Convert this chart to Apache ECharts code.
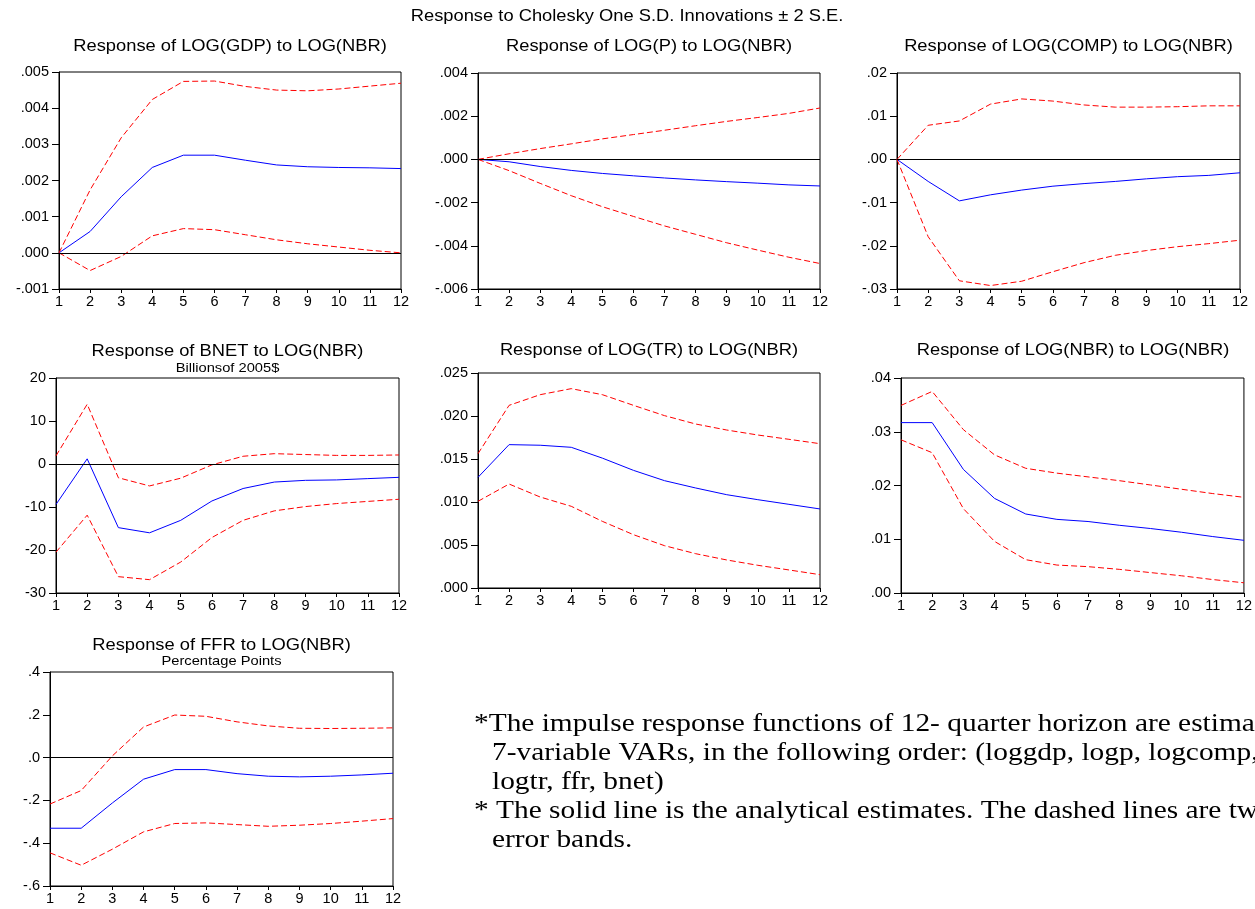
<!DOCTYPE html>
<html>
<head>
<meta charset="utf-8">
<script src="https://cdn.jsdelivr.net/npm/echarts@6/dist/echarts.min.js"></script>
<style>
html,body{margin:0;padding:0;background:#fff;overflow:hidden;}
#chart{width:1255px;height:909px;}
</style>
</head>
<body>
<div id="chart"></div>
<script>
const horizons = ['1','2','3','4','5','6','7','8','9','10','11','12'];

const gdpResp  = [0, 0.00059, 0.00155, 0.00236, 0.0027, 0.0027, 0.00256, 0.00243, 0.00238, 0.00236, 0.00235, 0.00233];
const gdpUpper = [0, 0.00174, 0.00318, 0.00424, 0.00474, 0.00475, 0.0046, 0.0045, 0.00448, 0.00453, 0.00461, 0.00469];
const gdpLower = [0, -0.00049, -0.0001, 0.00047, 0.00067, 0.00064, 0.0005, 0.00036, 0.00025, 0.00016, 0.00007, 0.0];

const pResp  = [0, -0.00011, -0.00033, -0.00051, -0.00065, -0.00076, -0.00086, -0.00095, -0.00103, -0.0011, -0.00118, -0.00123];
const pUpper = [0, 0.00026, 0.0005, 0.00072, 0.00095, 0.00115, 0.00135, 0.00156, 0.00176, 0.00194, 0.00213, 0.00238];
const pLower = [0, -0.00052, -0.00111, -0.00168, -0.00219, -0.00264, -0.00308, -0.00347, -0.00386, -0.0042, -0.00453, -0.00482];

const compResp  = [0, -0.0051, -0.0096, -0.0082, -0.0071, -0.0062, -0.0056, -0.0051, -0.0045, -0.004, -0.0037, -0.0031];
const compUpper = [0, 0.0079, 0.0089, 0.0128, 0.014, 0.0135, 0.0126, 0.0121, 0.0121, 0.0122, 0.0124, 0.0124];
const compLower = [0, -0.0179, -0.0281, -0.0292, -0.0282, -0.026, -0.0239, -0.0222, -0.0211, -0.0202, -0.0195, -0.0187];

const bnetResp  = [-9.4, 1.2, -14.8, -16.0, -13.1, -8.6, -5.7, -4.2, -3.8, -3.7, -3.4, -3.1];
const bnetUpper = [1.9, 13.9, -3.2, -5.1, -3.3, -0.2, 1.8, 2.4, 2.2, 2.0, 2.0, 2.1];
const bnetLower = [-20.5, -11.9, -26.2, -26.9, -22.8, -17.1, -13.1, -10.9, -9.9, -9.2, -8.7, -8.2];

const trResp  = [0.01287, 0.01667, 0.0166, 0.01636, 0.0151, 0.01368, 0.01248, 0.01163, 0.01085, 0.01027, 0.00973, 0.00919];
const trUpper = [0.01562, 0.02124, 0.02248, 0.02318, 0.02248, 0.02124, 0.02004, 0.01907, 0.01837, 0.01779, 0.01729, 0.01678];
const trLower = [0.01008, 0.01209, 0.01058, 0.0095, 0.00775, 0.0062, 0.00492, 0.00399, 0.00326, 0.00264, 0.0021, 0.00155];

const nbrResp  = [0.0317, 0.0317, 0.023, 0.0176, 0.0147, 0.0137, 0.0133, 0.0126, 0.012, 0.0113, 0.0105, 0.0098];
const nbrUpper = [0.0349, 0.0375, 0.0304, 0.0257, 0.0232, 0.0223, 0.0216, 0.0209, 0.0201, 0.0193, 0.0185, 0.0178];
const nbrLower = [0.0285, 0.0261, 0.0157, 0.0096, 0.0062, 0.0052, 0.0049, 0.0044, 0.0038, 0.0032, 0.0025, 0.0019];

const ffrResp  = [-0.33, -0.33, -0.212, -0.101, -0.056, -0.056, -0.075, -0.087, -0.09, -0.087, -0.081, -0.073];
const ffrUpper = [-0.217, -0.154, 0.008, 0.143, 0.199, 0.193, 0.167, 0.148, 0.137, 0.136, 0.137, 0.139];
const ffrLower = [-0.445, -0.503, -0.428, -0.347, -0.308, -0.305, -0.313, -0.321, -0.316, -0.308, -0.297, -0.285];

const panelTitles = [
  'Response of LOG(GDP) to LOG(NBR)',
  'Response of LOG(P) to LOG(NBR)',
  'Response of LOG(COMP) to LOG(NBR)',
  'Response of BNET to LOG(NBR)',
  'Response of LOG(TR) to LOG(NBR)',
  'Response of LOG(NBR) to LOG(NBR)',
  'Response of FFR to LOG(NBR)'
];
const panelSubtitles = ['', '', '', 'Billionsof 2005$', '', '', 'Percentage Points'];
const mainTitle = 'Response to Cholesky One S.D. Innovations \u00b1 2 S.E.';
const noteLines = [
  '*The impulse response functions of 12- quarter horizon are estimated',
  '7-variable VARs, in the following order: (loggdp, logp, logcomp,',
  'logtr, ffr, bnet)',
  '* The solid line is the analytical estimates. The dashed lines are two',
  'error bands.'
];

// y-axis scales: [min, max, interval, decimals]
const yScales = [
  [-0.001, 0.005, 0.001, 3],
  [-0.006, 0.004, 0.002, 3],
  [-0.03, 0.02, 0.01, 2],
  [-30, 20, 10, 0],
  [0, 0.025, 0.005, 3],
  [0, 0.04, 0.01, 2],
  [-0.6, 0.4, 0.2, 1]
];

const panelData = [
  [gdpResp, gdpUpper, gdpLower],
  [pResp, pUpper, pLower],
  [compResp, compUpper, compLower],
  [bnetResp, bnetUpper, bnetLower],
  [trResp, trUpper, trLower],
  [nbrResp, nbrUpper, nbrLower],
  [ffrResp, ffrUpper, ffrLower]
];

// layout: plot rectangles [left, top, right, bottom] and title y positions
const rects = [
  [59, 72, 401, 289],
  [478, 73, 820, 289],
  [897, 73, 1240, 289],
  [56, 378, 399, 593],
  [478, 373, 820, 588],
  [901, 378, 1245, 593],
  [50, 672, 393, 886]
];
const titleY = [46, 46, 46, 351, 350, 350, 645];
const subY = [0, 0, 0, 368, 0, 0, 661];

function fmt(dec) {
  return function (v) {
    if (Math.abs(v) < 1e-12) v = 0;
    let s = v.toFixed(dec);
    if (s.startsWith('0.')) s = s.slice(1);
    else if (s.startsWith('-0.')) s = '-' + s.slice(2);
    return s;
  };
}

const sansFont = '"Liberation Sans", Arial, sans-serif';
const grids = [], xAxes = [], yAxes = [], series = [], graphics = [];
rects.forEach(function (r, i) {
  grids.push({
    left: r[0], top: r[1], width: r[2] - r[0], height: r[3] - r[1],
    show: true, borderColor: '#000', borderWidth: 1, backgroundColor: 'transparent',
    containLabel: false
  });
  xAxes.push({
    type: 'category', gridIndex: i, data: horizons, boundaryGap: false,
    axisLine: { lineStyle: { color: '#000', width: 1 }, onZero: false },
    axisTick: { show: true, length: 4, lineStyle: { color: '#000' } },
    axisLabel: { color: '#000', fontFamily: sansFont, fontSize: 14.5, margin: 5, interval: 0 },
    splitLine: { show: false }
  });
  const ys = yScales[i];
  yAxes.push({
    type: 'value', gridIndex: i, min: ys[0], max: ys[1], interval: ys[2],
    axisLine: { show: true, lineStyle: { color: '#000', width: 1 } },
    axisTick: { show: true, length: 7, lineStyle: { color: '#000' } },
    axisLabel: { color: '#000', fontFamily: sansFont, fontSize: 14.5, margin: 10, formatter: fmt(ys[3]) },
    splitLine: { show: false }
  });
  const d = panelData[i];
  series.push({
    type: 'line', xAxisIndex: i, yAxisIndex: i, data: d[0], symbol: 'none',
    lineStyle: { color: '#0000ff', width: 1, type: 'solid' }, z: 3, silent: true,
    markLine: {
      silent: true, symbol: 'none', label: { show: false },
      lineStyle: { color: '#000', width: 1, type: 'solid' },
      data: [{ yAxis: 0 }], animation: false
    }
  });
  series.push({
    type: 'line', xAxisIndex: i, yAxisIndex: i, data: d[1], symbol: 'none',
    lineStyle: { color: '#ff0000', width: 1, type: [6, 3] }, z: 3, silent: true
  });
  series.push({
    type: 'line', xAxisIndex: i, yAxisIndex: i, data: d[2], symbol: 'none',
    lineStyle: { color: '#ff0000', width: 1, type: [6, 3] }, z: 3, silent: true
  });
  graphics.push({
    type: 'text', x: (r[0] + r[2]) / 2, y: titleY[i], scaleX: 1.11,
    style: { text: panelTitles[i], fill: '#000', font: '16.5px ' + sansFont, textAlign: 'center', textVerticalAlign: 'middle' }
  });
  if (panelSubtitles[i]) {
    graphics.push({
      type: 'text', x: (r[0] + r[2]) / 2, y: subY[i], scaleX: 1.13,
      style: { text: panelSubtitles[i], fill: '#000', font: '13px ' + sansFont, textAlign: 'center', textVerticalAlign: 'middle' }
    });
  }
});

graphics.push({
  type: 'text', x: 627, y: 16, scaleX: 1.11,
  style: { text: mainTitle, fill: '#000', font: '16.5px ' + sansFont, textAlign: 'center', textVerticalAlign: 'middle' }
});
const noteX = [474, 492, 492, 474, 492];
noteLines.forEach(function (t, k) {
  graphics.push({
    type: 'text', x: noteX[k], y: 724 + k * 29, scaleX: 1.13,
    style: { text: t, fill: '#000', font: '26px "Liberation Serif", "Times New Roman", serif', textAlign: 'left', textVerticalAlign: 'middle' }
  });
});

const chart = echarts.init(document.getElementById('chart'), null, { renderer: 'canvas' });
chart.setOption({
  animation: false,
  backgroundColor: '#fff',
  grid: grids,
  xAxis: xAxes,
  yAxis: yAxes,
  series: series,
  graphic: graphics
});
</script>
</body>
</html>
